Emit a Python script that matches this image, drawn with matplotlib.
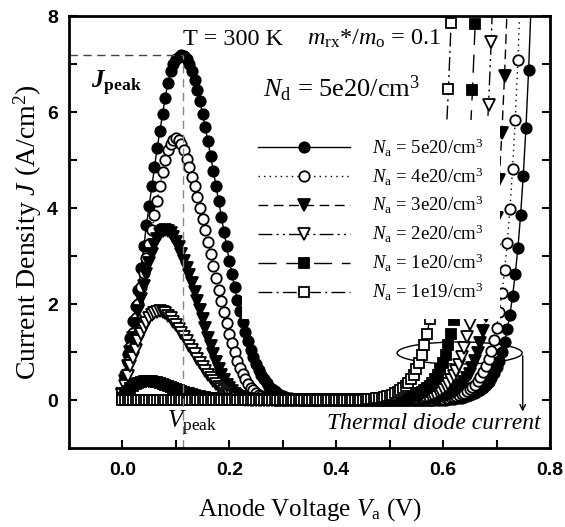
import numpy as np
import matplotlib
matplotlib.use('Agg')
import matplotlib.pyplot as plt
from matplotlib.patches import Ellipse

plt.rcParams['font.family'] = 'Liberation Serif'
plt.rcParams['mathtext.fontset'] = 'custom'
plt.rcParams['mathtext.rm'] = 'Liberation Serif'
plt.rcParams['mathtext.it'] = 'Liberation Serif:italic'
plt.rcParams['mathtext.bf'] = 'Liberation Serif:bold'
plt.rcParams['mathtext.bfit'] = 'Liberation Serif:italic:bold'

# anode voltage step of the simulated points (V)
v_step = 0.005

# tunnelling hump, J (A/cm2) from V = 0 upwards
peak_5e20 = [0.15, 0.55, 0.95, 1.3, 1.65, 1.95, 2.3, 2.75, 3.2, 3.65, 4.05, 4.45, 4.85,
             5.25, 5.6, 5.95, 6.3, 6.6, 6.85, 7.0, 7.1, 7.15, 7.18, 7.17, 7.1, 7.0, 6.85,
             6.67, 6.46, 6.22, 5.96, 5.68, 5.39, 5.09, 4.78, 4.46, 4.14, 3.82, 3.51, 3.2,
             2.9, 2.62, 2.35, 2.09, 1.85, 1.62, 1.41, 1.22, 1.05, 0.89, 0.75, 0.63, 0.52,
             0.43, 0.35, 0.28, 0.23, 0.18, 0.14, 0.11, 0.09, 0.07, 0.05, 0.04, 0.03, 0.02,
             0.015]
peak_4e20 = [0.15, 0.45, 0.8, 1.1, 1.4, 1.7, 2.0, 2.35, 2.65, 2.95, 3.25, 3.55, 3.85, 4.15,
             4.45, 4.75, 5.0, 5.2, 5.33, 5.42, 5.45, 5.42, 5.33, 5.2, 5.03, 4.85, 4.65,
             4.45, 4.22, 4.0, 3.78, 3.55, 3.3, 3.05, 2.8, 2.55, 2.3, 2.07, 1.83, 1.6, 1.38,
             1.18, 0.99, 0.82, 0.67, 0.54, 0.43, 0.34, 0.26, 0.2, 0.15, 0.11, 0.08, 0.06,
             0.04, 0.03, 0.02, 0.01]
peak_3e20 = [0.12, 0.4, 0.7, 1.0, 1.3, 1.58, 1.85, 2.1, 2.37, 2.62, 2.85, 3.05, 3.22, 3.36,
             3.46, 3.52, 3.54, 3.53, 3.48, 3.4, 3.3, 3.18, 3.05, 2.9, 2.75, 2.6, 2.43, 2.25,
             2.06, 1.87, 1.68, 1.49, 1.3, 1.12, 0.95, 0.79, 0.65, 0.52, 0.41, 0.32, 0.24,
             0.18, 0.13, 0.09, 0.06, 0.04, 0.03, 0.02, 0.01]
peak_2e20 = [0.1, 0.3, 0.5, 0.7, 0.88, 1.05, 1.22, 1.37, 1.5, 1.61, 1.7, 1.77, 1.81, 1.84,
             1.85, 1.84, 1.81, 1.76, 1.7, 1.63, 1.56, 1.48, 1.4, 1.31, 1.22, 1.13, 1.04,
             0.95, 0.86, 0.77, 0.69, 0.61, 0.53, 0.46, 0.39, 0.33, 0.27, 0.22, 0.18, 0.14,
             0.11, 0.08, 0.06, 0.04, 0.03, 0.02, 0.01]
peak_1e20 = [0.05, 0.12, 0.18, 0.24, 0.29, 0.33, 0.36, 0.38, 0.39, 0.4, 0.4, 0.39, 0.38,
             0.37, 0.35, 0.33, 0.31, 0.29, 0.27, 0.25, 0.23, 0.21, 0.19, 0.17, 0.15, 0.14,
             0.12, 0.11, 0.09, 0.08, 0.07, 0.06, 0.05, 0.04, 0.035, 0.03, 0.025, 0.02,
             0.015, 0.01]
peak_1e19 = []

# thermal diode current, J (A/cm2), ending at the last voltage of each series
diode_5e20 = [0.01, 0.01, 0.02, 0.02, 0.03, 0.04, 0.05, 0.05, 0.07, 0.08, 0.10, 0.12,
              0.14, 0.18, 0.21, 0.26, 0.31, 0.38, 0.46, 0.56, 0.68, 0.82, 1.00, 1.21,
              1.47, 1.78, 2.16, 2.62, 3.17, 3.85, 4.67, 5.66, 6.87, 8.33]
diode_4e20 = [0.01, 0.01, 0.02, 0.02, 0.03, 0.03, 0.04, 0.05, 0.06, 0.07, 0.08, 0.10,
              0.12, 0.15, 0.18, 0.22, 0.27, 0.32, 0.39, 0.47, 0.58, 0.70, 0.85, 1.03,
              1.25, 1.51, 1.83, 2.22, 2.70, 3.27, 3.97, 4.82, 5.84, 7.08, 8.59]
diode_3e20 = [0.01, 0.01, 0.02, 0.02, 0.02, 0.03, 0.04, 0.05, 0.05, 0.07, 0.08, 0.10,
              0.12, 0.14, 0.17, 0.21, 0.25, 0.31, 0.37, 0.45, 0.55, 0.67, 0.81, 0.98,
              1.19, 1.44, 1.75, 2.12, 2.57, 3.12, 3.79, 4.59, 5.57, 6.76, 8.20]
diode_2e20 = [0.01, 0.01, 0.02, 0.02, 0.03, 0.03, 0.04, 0.05, 0.06, 0.07, 0.09, 0.11,
              0.13, 0.16, 0.19, 0.23, 0.28, 0.34, 0.41, 0.50, 0.61, 0.73, 0.89, 1.08,
              1.31, 1.59, 1.93, 2.34, 2.84, 3.44, 4.17, 5.06, 6.14, 7.45, 9.03]
diode_1e20 = [0.01, 0.01, 0.02, 0.02, 0.03, 0.03, 0.04, 0.05, 0.06, 0.08, 0.09, 0.11,
              0.14, 0.17, 0.20, 0.24, 0.29, 0.36, 0.43, 0.53, 0.64, 0.77, 0.94, 1.14,
              1.38, 1.67, 2.03, 2.46, 2.98, 3.62, 4.39, 5.32, 6.46, 7.83, 9.50]
diode_1e19 = [0.01, 0.01, 0.02, 0.02, 0.02, 0.03, 0.04, 0.04, 0.05, 0.06, 0.08, 0.09,
              0.11, 0.14, 0.17, 0.20, 0.24, 0.30, 0.36, 0.43, 0.53, 0.64, 0.78, 0.94,
              1.14, 1.38, 1.68, 2.04, 2.47, 3.00, 3.63, 4.41, 5.34, 6.48, 7.86, 9.53]

# last simulated voltage of each series (V)
v_end = [0.765, 0.745, 0.72, 0.695, 0.665, 0.62]

labels = ['5e20', '4e20', '3e20', '2e20', '1e20', '1e19']
peaks = [peak_5e20, peak_4e20, peak_3e20, peak_2e20, peak_1e20, peak_1e19]
diodes = [diode_5e20, diode_4e20, diode_3e20, diode_2e20, diode_1e20, diode_1e19]

v_peak = 0.113
j_peak = 7.18

styles = [
    dict(marker='o', mfc='k', ls='-', ms=7.5),
    dict(marker='o', mfc='w', ls=(0, (1, 3)), ms=7.5),
    dict(marker='v', mfc='k', ls=(0, (7, 4)), ms=8),
    dict(marker='v', mfc='w', ls=(0, (10, 3, 1.5, 3, 1.5, 3)), ms=8),
    dict(marker='s', mfc='k', ls=(0, (13, 7)), ms=6.5),
    dict(marker='s', mfc='w', ls=(0, (10, 3, 1.5, 3)), ms=6.5),
]

fig = plt.figure(figsize=(5.65, 5.27), dpi=100)
ax = fig.add_axes([0.1221, 0.1499, 0.8513, 0.8197])

for lab, pk, dd, ve, st in zip(labels, peaks, diodes, v_end, styles):
    n = int(round(ve / v_step)) + 1
    v = np.arange(n) * v_step
    j = np.zeros(n)
    j[:len(pk)] += pk
    j[n - len(dd):] += dd
    ax.plot(v, j, color='k', lw=1.0, mec='k', mew=1.3,
            label=r'$N_{\mathrm{a}}$ = ' + lab + r'/cm$^3$', **st)

ax.plot([-0.1, v_peak], [j_peak, j_peak], color='#444444', lw=1, ls=(0, (6, 4)))
ax.plot([v_peak, v_peak], [-1, j_peak], color='#888888', lw=1, ls=(0, (6, 4)))

ax.set_xlim(-0.1, 0.8)
ax.set_ylim(-1, 8)
ax.set_xticks([0.0, 0.2, 0.4, 0.6, 0.8])
ax.set_xticks([0.1, 0.3, 0.5, 0.7], minor=True)
ax.set_yticks([0, 2, 4, 6, 8])
ax.set_yticks([1, 3, 5, 7], minor=True)
ax.set_xticklabels(['0.0', '0.2', '0.4', '0.6', '0.8'])
ax.tick_params(which='both', direction='in', length=6, width=1.5, right=True, top=False,
               labelsize=14)
ax.tick_params(axis='x', pad=10)
ax.tick_params(axis='y', pad=8)
for lb in ax.get_xticklabels() + ax.get_yticklabels():
    lb.set_family('Liberation Sans')
    lb.set_weight('bold')
for sp in ax.spines.values():
    sp.set_linewidth(2)

ax.set_xlabel(r'Anode Voltage $V_{\mathrm{a}}$ (V)', fontsize=18)
ax.xaxis.set_label_coords(0.5, -0.112)
ax.set_ylabel(r'Current Density $J$ (A/cm$^2$)', fontsize=20, labelpad=2)

leg = ax.legend(loc='upper left', bbox_to_anchor=(0.359, 0.759), borderaxespad=0,
                fontsize=13.5, handlelength=4.9, handletextpad=1.15, labelspacing=0.36,
                borderpad=0.88, frameon=True, fancybox=False)
leg.get_frame().set_facecolor('white')
leg.get_frame().set_edgecolor('none')
leg.get_frame().set_alpha(1)
leg.set_zorder(5)

ax.text(0.113, 7.4, 'T = 300 K', fontsize=17.5, va='baseline')
ax.text(0.345, 7.4, r'$m_{\mathrm{rx}}$*/$m_{\mathrm{o}}$ = 0.1', fontsize=17.5, va='baseline')
ax.text(0.263, 6.3, r'$N_{\mathrm{d}}$ = 5e20/cm$^3$', fontsize=19, va='baseline')
ax.text(-0.058, 6.5, r'$\mathbfit{J}_{\mathbf{peak}}$', fontsize=18, va='baseline')
ax.text(0.083, -0.6, r'$V_{\mathrm{peak}}$', fontsize=18, va='baseline')
ax.text(0.383, -0.6, 'Thermal diode current', fontsize=17, style='italic', va='baseline')

ax.add_patch(Ellipse((0.631, 0.98), 0.234, 0.46, fill=False, ec='k', lw=1))
ax.annotate('', xy=(0.749, -0.3), xytext=(0.749, 0.98),
            arrowprops=dict(arrowstyle='->', color='k', lw=1))

fig.savefig('out.png', dpi=100)
